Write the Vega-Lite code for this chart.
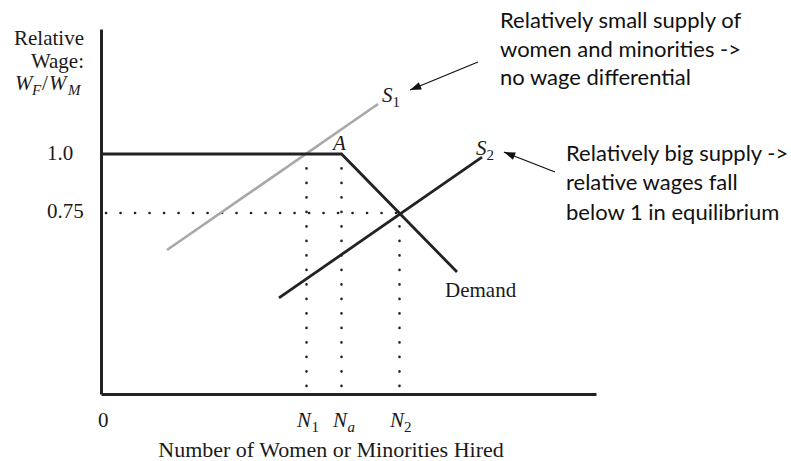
{
  "$schema": "https://vega.github.io/schema/vega-lite/v6.json",
  "width": 495,
  "height": 365,
  "autosize": "none",
  "padding": {"left": 101, "top": 29, "right": 195, "bottom": 67},
  "background": "white",
  "config": {
    "view": {"stroke": null},
    "axis": {"domainWidth": 3, "domainColor": "#222222", "ticks": false, "labels": false, "grid": false, "title": null}
  },
  "datasets": {
    "curves": [
      {"series": "Demand", "x": 0, "y": 1.0},
      {"series": "Demand", "x": 240.5, "y": 1.0},
      {"series": "Demand", "x": 356, "y": 0.5},
      {"series": "S1", "x": 66, "y": 0.593},
      {"series": "S1", "x": 277, "y": 1.212},
      {"series": "S2", "x": 178, "y": 0.39},
      {"series": "S2", "x": 381, "y": 0.987}
    ],
    "hdots": [
      {"name": "W075", "x": 5, "x2": 298.5, "y": 0.75}
    ],
    "vdots": [
      {"name": "N1", "x": 205.5, "y": 0.017, "y2": 0.97},
      {"name": "Na", "x": 240.5, "y": 0.017, "y2": 0.97},
      {"name": "N2", "x": 298.5, "y": 0.017, "y2": 0.73}
    ],
    "arrows": [
      {"arrow": "a1", "x": 377, "y": 1.39, "x2": 309, "y2": 1.271},
      {"arrow": "a2", "x": 454, "y": 0.924, "x2": 403, "y2": 1.008}
    ],
    "labels": [
      {"t": "Relative", "x": -17, "y": 1.462, "s": "serifR"},
      {"t": "Wage:", "x": -17, "y": 1.364, "s": "serifR"},
      {"t": "W", "x": -86, "y": 1.271, "s": "serifI"},
      {"t": "F", "x": -69, "y": 1.25, "s": "subI"},
      {"t": "/", "x": -59, "y": 1.271, "s": "serif"},
      {"t": "W", "x": -52, "y": 1.271, "s": "serifI"},
      {"t": "M", "x": -33, "y": 1.25, "s": "subI"},
      {"t": "1.0", "x": -54, "y": 0.975, "s": "serif"},
      {"t": "0.75", "x": -54, "y": 0.729, "s": "serif"},
      {"t": "0", "x": -3, "y": -0.157, "s": "serif"},
      {"t": "N", "x": 196, "y": -0.157, "s": "serifI"},
      {"t": "1", "x": 210.5, "y": -0.178, "s": "sub"},
      {"t": "N", "x": 232, "y": -0.157, "s": "serifI"},
      {"t": "a", "x": 246.5, "y": -0.178, "s": "subI"},
      {"t": "N", "x": 289, "y": -0.157, "s": "serifI"},
      {"t": "2", "x": 303, "y": -0.178, "s": "sub"},
      {"t": "Number of Women or Minorities Hired", "x": 230, "y": -0.284, "s": "serifC"},
      {"t": "S", "x": 281, "y": 1.22, "s": "serifI"},
      {"t": "1", "x": 291.5, "y": 1.199, "s": "sub"},
      {"t": "A", "x": 232, "y": 1.017, "s": "serifI"},
      {"t": "S", "x": 375, "y": 0.996, "s": "serifI"},
      {"t": "2", "x": 385.5, "y": 0.975, "s": "sub"},
      {"t": "Demand", "x": 344, "y": 0.394, "s": "serif"},
      {"t": "Relatively small supply of", "x": 399, "y": 1.534, "s": "sans"},
      {"t": "women and minorities ->", "x": 399, "y": 1.411, "s": "sans"},
      {"t": "no wage differential", "x": 399, "y": 1.292, "s": "sans"},
      {"t": "Relatively big supply ->", "x": 465, "y": 0.97, "s": "sans"},
      {"t": "relative wages fall", "x": 465, "y": 0.847, "s": "sans"},
      {"t": "below 1 in equilibrium", "x": 465, "y": 0.72, "s": "sans"}
    ]
  },
  "encoding": {
    "x": {"field": "x", "type": "quantitative", "scale": {"domain": [0, 495], "nice": false, "zero": false}, "axis": {"title": null}},
    "y": {"field": "y", "type": "quantitative", "scale": {"domain": [-0.017, 1.5297], "nice": false, "zero": false}, "axis": {"title": null}}
  },
  "layer": [
    {
      "data": {"name": "hdots"},
      "mark": {"type": "rule", "color": "#222222", "strokeWidth": 2.6, "strokeCap": "round", "strokeDash": [0.1, 14.4]},
      "encoding": {"x2": {"field": "x2"}}
    },
    {
      "data": {"name": "vdots"},
      "mark": {"type": "rule", "color": "#222222", "strokeWidth": 2.6, "strokeCap": "round", "strokeDash": [0.1, 14.4]},
      "encoding": {"y2": {"field": "y2"}}
    },
    {
      "data": {"name": "curves"},
      "transform": [{"filter": "datum.series === 'S1'"}],
      "mark": {"type": "line", "color": "#a8a8a8", "strokeWidth": 2.6},
      "encoding": {"detail": {"field": "series"}}
    },
    {
      "data": {"name": "curves"},
      "transform": [{"filter": "datum.series !== 'S1'"}],
      "mark": {"type": "line", "color": "#222222", "strokeWidth": 2.8, "strokeJoin": "miter"},
      "encoding": {"detail": {"field": "series"}}
    },
    {
      "data": {"name": "arrows"},
      "mark": {"type": "rule", "color": "#111111", "strokeWidth": 1.2},
      "encoding": {"x2": {"field": "x2"}, "y2": {"field": "y2"}}
    },
    {
      "data": {"name": "arrows"},
      "transform": [{"filter": "datum.arrow === 'a1'"}],
      "mark": {"type": "point", "filled": true, "color": "#111111", "opacity": 1, "shape": "M0,0L0.35,1L-0.35,1Z", "size": 500, "angle": 247.6},
      "encoding": {"x": {"field": "x2", "type": "quantitative"}, "y": {"field": "y2", "type": "quantitative"}}
    },
    {
      "data": {"name": "arrows"},
      "transform": [{"filter": "datum.arrow === 'a2'"}],
      "mark": {"type": "point", "filled": true, "color": "#111111", "opacity": 1, "shape": "M0,0L0.35,1L-0.35,1Z", "size": 500, "angle": 291.4},
      "encoding": {"x": {"field": "x2", "type": "quantitative"}, "y": {"field": "y2", "type": "quantitative"}}
    },
    {
      "data": {"name": "labels"},
      "transform": [{"filter": "datum.s === 'serifR'"}],
      "mark": {"type": "text", "font": "Liberation Serif", "fontSize": 21, "align": "right", "baseline": "alphabetic", "color": "#1a1a1a"},
      "encoding": {"text": {"field": "t"}}
    },
    {
      "data": {"name": "labels"},
      "transform": [{"filter": "datum.s === 'serif'"}],
      "mark": {"type": "text", "font": "Liberation Serif", "fontSize": 21, "align": "left", "baseline": "alphabetic", "color": "#1a1a1a"},
      "encoding": {"text": {"field": "t"}}
    },
    {
      "data": {"name": "labels"},
      "transform": [{"filter": "datum.s === 'serifI'"}],
      "mark": {"type": "text", "font": "Liberation Serif", "fontStyle": "italic", "fontSize": 21, "align": "left", "baseline": "alphabetic", "color": "#1a1a1a"},
      "encoding": {"text": {"field": "t"}}
    },
    {
      "data": {"name": "labels"},
      "transform": [{"filter": "datum.s === 'sub'"}],
      "mark": {"type": "text", "font": "Liberation Serif", "fontSize": 15, "align": "left", "baseline": "alphabetic", "color": "#1a1a1a"},
      "encoding": {"text": {"field": "t"}}
    },
    {
      "data": {"name": "labels"},
      "transform": [{"filter": "datum.s === 'subI'"}],
      "mark": {"type": "text", "font": "Liberation Serif", "fontStyle": "italic", "fontSize": 15, "align": "left", "baseline": "alphabetic", "color": "#1a1a1a"},
      "encoding": {"text": {"field": "t"}}
    },
    {
      "data": {"name": "labels"},
      "transform": [{"filter": "datum.s === 'serifC'"}],
      "mark": {"type": "text", "font": "Liberation Serif", "fontSize": 22, "align": "center", "baseline": "alphabetic", "color": "#1a1a1a"},
      "encoding": {"text": {"field": "t"}}
    },
    {
      "data": {"name": "labels"},
      "transform": [{"filter": "datum.s === 'sans'"}],
      "mark": {"type": "text", "font": "Lato", "fontSize": 22, "align": "left", "baseline": "alphabetic", "color": "#111111"},
      "encoding": {"text": {"field": "t"}}
    }
  ]
}
